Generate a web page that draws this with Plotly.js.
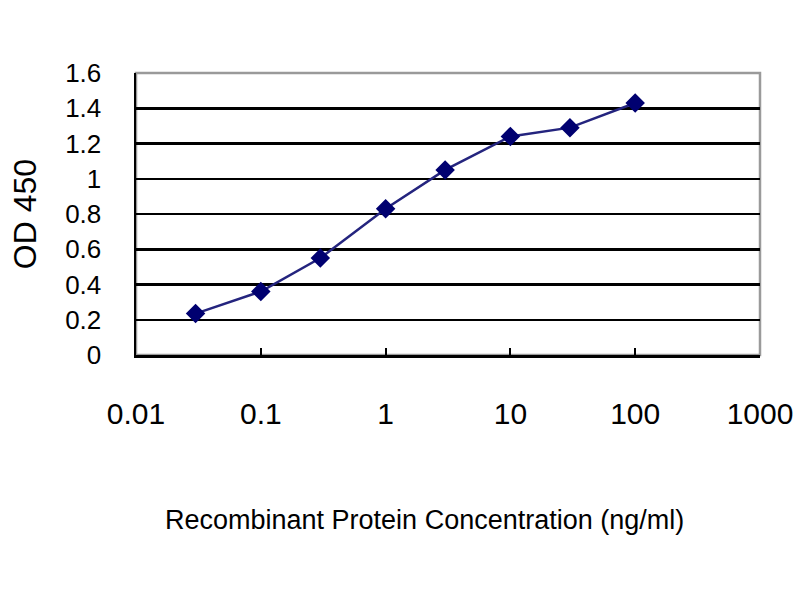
<!DOCTYPE html>
<html lang="en">
  <head>
    <meta charset="UTF-8" />
    <title>OD 450 vs Recombinant Protein Concentration</title>
    <script src="https://cdn.plot.ly/plotly-3.0.1.min.js"></script>
    <style>
      body {
        margin: 0;
        padding: 0;
        background: #ffffff;
      }
      #plot {
        width: 800px;
        height: 600px;
      }
    </style>
  </head>
  <body>
    <div id="plot"></div>

    <script>
      // concentration (ng/ml) and measured OD 450
      const concentration = [0.03, 0.1, 0.3, 1, 3, 10, 30, 100];
      const od450 = [0.235, 0.36, 0.55, 0.83, 1.05, 1.24, 1.29, 1.43];

      const xTickVals = [0.01, 0.1, 1, 10, 100, 1000];
      const xTickText = ["0.01", "0.1", "1", "10", "100", "1000"];

      const xTitle = "Recombinant Protein Concentration (ng/ml)";
      const yTitle = "OD 450";

      const font = "Liberation Sans, Arial, sans-serif";

      const trace = {
        x: concentration,
        y: od450,
        type: "scatter",
        mode: "lines+markers",
        line: { color: "#24247e", width: 2.5 },
        marker: { symbol: "diamond", size: 15, color: "#000070" },
        hoverinfo: "x+y",
      };

      const layout = {
        width: 800,
        height: 600,
        margin: { l: 136, r: 40, t: 73, b: 245 },
        paper_bgcolor: "#ffffff",
        plot_bgcolor: "#ffffff",
        showlegend: false,
        font: { family: font, color: "#000000" },
        xaxis: {
          type: "log",
          range: [-2, 3],
          tickvals: xTickVals,
          ticktext: xTickText,
          ticks: "inside",
          ticklen: 7,
          tickwidth: 2,
          tickcolor: "#000000",
          tickfont: { size: 30 },
          ticklabelstandoff: 30,
          showgrid: false,
          zeroline: false,
          showline: true,
          linecolor: "#000000",
          linewidth: 2.5,
        },
        yaxis: {
          range: [0, 1.6],
          dtick: 0.2,
          ticks: "",
          tickfont: { size: 26 },
          ticklabelstandoff: 27,
          showgrid: true,
          gridcolor: "#000000",
          gridwidth: 2.5,
          zeroline: false,
          showline: true,
          linecolor: "#000000",
          linewidth: 2.5,
          title: {
            text: yTitle,
            font: { size: 32 },
            standoff: 19,
          },
        },
        // x title sits a little left of the plot centre in the original
        annotations: [
          {
            text: xTitle,
            xref: "paper",
            yref: "paper",
            x: 0.463,
            y: -0.585,
            xanchor: "center",
            yanchor: "middle",
            showarrow: false,
            font: { size: 27 },
          },
        ],
        shapes: [
          {
            type: "rect",
            xref: "paper",
            yref: "paper",
            x0: 0,
            x1: 1,
            y0: 0,
            y1: 1,
            layer: "below",
            line: { color: "#9a9a9a", width: 2.5 },
          },
        ],
      };

      Plotly.newPlot("plot", [trace], layout, {
        displayModeBar: false,
        staticPlot: true,
      });
    </script>
  </body>
</html>
